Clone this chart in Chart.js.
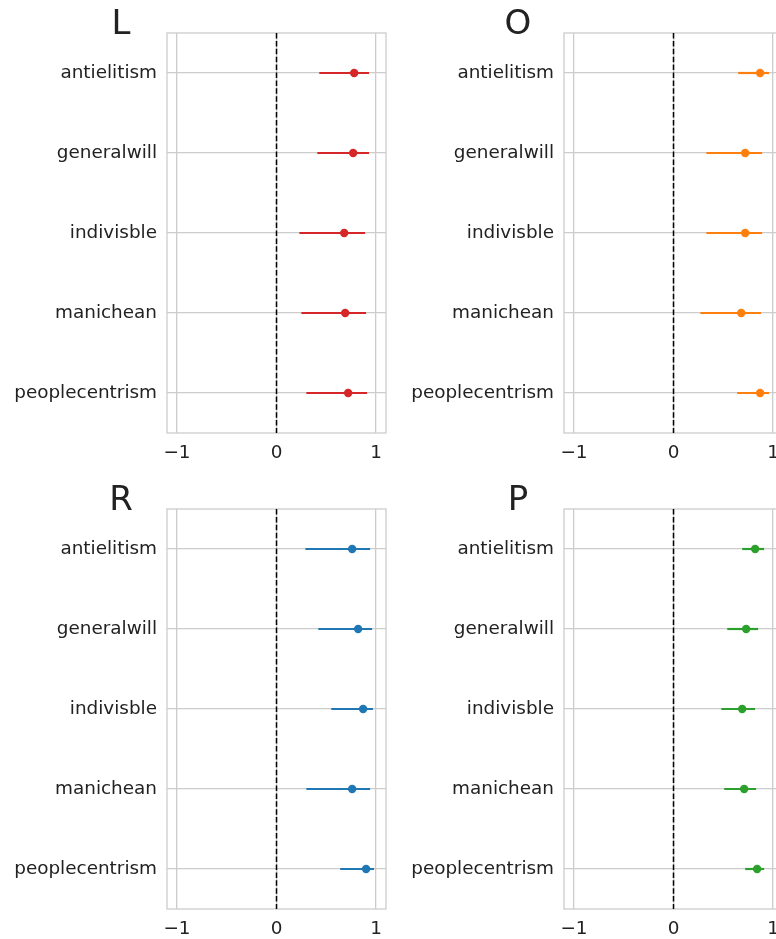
<!DOCTYPE html>
<html>
<head>
<meta charset="utf-8">
<script src="https://cdn.jsdelivr.net/npm/chart.js@4"></script>
<style>
	html, body { margin: 0; padding: 0; background: #fff; overflow: hidden; width: 776px; height: 939px; }
	.panel { position: absolute; width: 396px; height: 465px; }
</style>
</head>
<body>
<div class="panel" style="left:0;top:0"><canvas id="chartL"></canvas></div>
<div class="panel" style="left:397px;top:0"><canvas id="chartO"></canvas></div>
<div class="panel" style="left:0;top:476px"><canvas id="chartR"></canvas></div>
<div class="panel" style="left:397px;top:476px"><canvas id="chartP"></canvas></div>
<script>
const categories = ['antielitism', 'generalwill', 'indivisble', 'manichean', 'peoplecentrism']
const xTicks = [-1, 0, 1]

const lMean = [0.78, 0.77, 0.68, 0.69, 0.72]
const lLow = [0.43, 0.41, 0.23, 0.25, 0.30]
const lHigh = [0.93, 0.93, 0.89, 0.90, 0.91]

const oMean = [0.87, 0.72, 0.72, 0.68, 0.87]
const oLow = [0.65, 0.33, 0.33, 0.27, 0.64]
const oHigh = [0.96, 0.89, 0.89, 0.88, 0.96]

const rMean = [0.76, 0.82, 0.87, 0.76, 0.90]
const rLow = [0.29, 0.42, 0.55, 0.30, 0.64]
const rHigh = [0.94, 0.96, 0.97, 0.94, 0.98]

const pMean = [0.82, 0.73, 0.69, 0.71, 0.84]
const pLow = [0.69, 0.54, 0.48, 0.51, 0.72]
const pHigh = [0.91, 0.85, 0.82, 0.83, 0.91]

const FONT = "'DejaVu Sans', sans-serif"
const GRID = '#cccccc'
const TEXT = '#222222'

// frame round the axes + big panel letter
const framePlugin = {
	id: 'frame',
	beforeDatasetsDraw(chart) {
		const a = chart.chartArea
		const ctx = chart.ctx
		ctx.save()
		ctx.strokeStyle = GRID
		ctx.lineWidth = 1.3
		ctx.strokeRect(a.left, a.top, a.right - a.left, a.bottom - a.top)
		ctx.restore()
	},
	afterDraw(chart, args, opts) {
		const ctx = chart.ctx
		ctx.save()
		ctx.fillStyle = TEXT
		ctx.font = '34px ' + FONT
		ctx.textAlign = 'center'
		ctx.textBaseline = 'alphabetic'
		ctx.fillText(opts.text, 121, chart.chartArea.top + 1)
		ctx.restore()
	}
}

function makePanel(id, letter, mean, low, high, color) {
	const datasets = []
	datasets.push({
		data: mean.map((v, i) => ({x: v, y: i})),
		showLine: false,
		pointRadius: 4.2,
		pointBackgroundColor: color,
		pointBorderColor: color,
		pointBorderWidth: 0
	})
	categories.forEach(function(c, i) {
		datasets.push({
			data: [{x: low[i], y: i}, {x: high[i], y: i}],
			showLine: true,
			borderColor: color,
			borderWidth: 2.2,
			pointRadius: 0
		})
	})
	datasets.push({
		data: [{x: 0, y: -0.5}, {x: 0, y: categories.length - 0.5}],
		showLine: true,
		borderColor: '#000',
		borderWidth: 1.5,
		borderDash: [5.5, 2.4],
		pointRadius: 0
	})

	new Chart(document.getElementById(id), {
		type: 'scatter',
		data: {datasets: datasets},
		options: {
			responsive: true,
			maintainAspectRatio: false,
			animation: false,
			layout: {padding: {top: 33, right: 10, left: 0, bottom: 0}},
			plugins: {legend: {display: false}, tooltip: {enabled: false}, frame: {text: letter}},
			scales: {
				x: {
					min: -1.1, max: 1.1,
					afterBuildTicks: function(scale) { scale.ticks = xTicks.map(v => ({value: v})) },
					afterFit: function(scale) { scale.height = 32 },
					grid: {color: GRID, lineWidth: 1.3, drawTicks: false},
					border: {display: false},
					ticks: {
						padding: 9,
						color: TEXT,
						font: {family: FONT, size: 18.4},
						callback: v => v < 0 ? '\u2212' + Math.abs(v) : String(v)
					}
				},
				y: {
					reverse: true,
					min: -0.5, max: categories.length - 0.5,
					afterBuildTicks: function(scale) { scale.ticks = categories.map((c, i) => ({value: i})) },
					afterFit: function(scale) { scale.width = 167 },
					grid: {color: GRID, lineWidth: 1.3, drawTicks: false},
					border: {display: false},
					ticks: {
						padding: 10,
						color: TEXT,
						font: {family: FONT, size: 18.4},
						callback: v => categories[v]
					}
				}
			}
		},
		plugins: [framePlugin]
	})
}

makePanel('chartL', 'L', lMean, lLow, lHigh, '#d62728')
makePanel('chartO', 'O', oMean, oLow, oHigh, '#ff7f0e')
makePanel('chartR', 'R', rMean, rLow, rHigh, '#1f77b4')
makePanel('chartP', 'P', pMean, pLow, pHigh, '#2ca02c')
</script>
</body>
</html>
